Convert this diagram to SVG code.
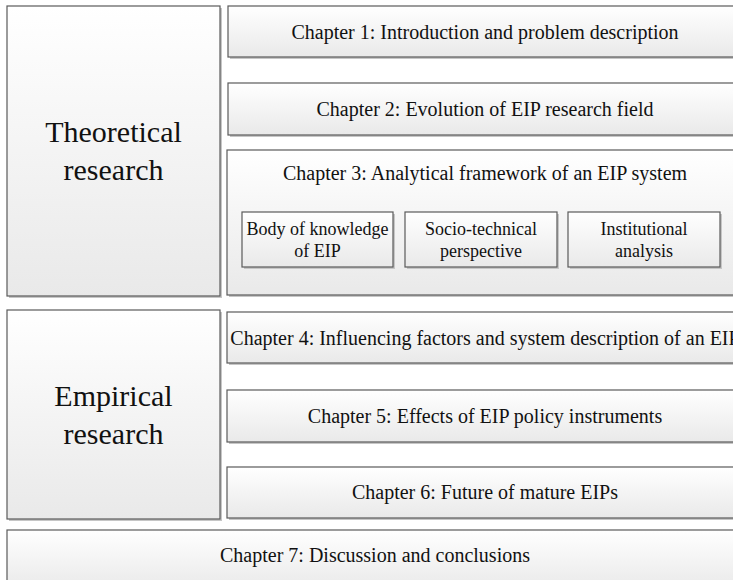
<svg xmlns="http://www.w3.org/2000/svg" width="733" height="580" viewBox="0 0 733 580">
  <style>
    .box { fill: url(#boxFill); stroke: #5a5a5a; stroke-width: 1.2; }
    .shadow { fill: #c6c6c6; }
    .big { font-family: "Liberation Serif", "Times New Roman", serif; font-size: 30px; fill: #111; text-anchor: middle; }
    .ch { font-family: "Liberation Serif", "Times New Roman", serif; font-size: 20px; fill: #111; text-anchor: middle; }
    .sub { font-family: "Liberation Serif", "Times New Roman", serif; font-size: 18px; fill: #111; text-anchor: middle; }
  </style>
  <defs>
    <linearGradient id="boxFill" x1="0" y1="0" x2="0" y2="1">
      <stop offset="0" stop-color="#ffffff"/>
      <stop offset="1" stop-color="#e9e9e9"/>
    </linearGradient>
  </defs>
  <rect width="733" height="580" fill="#ffffff"/>

  <g id="theoretical">
    <rect class="shadow" x="9" y="8" width="213" height="290"/>
    <rect class="box" x="7" y="6" width="213" height="290"/>
    <text class="big" x="113.5" y="142">Theoretical</text>
    <text class="big" x="113.5" y="180">research</text>
  </g>

  <g id="chapter1">
    <rect class="shadow" x="230" y="8" width="515" height="51"/>
    <rect class="box" x="228" y="6" width="515" height="51"/>
    <text class="ch" x="485" y="38.5">Chapter 1: Introduction and problem description</text>
  </g>

  <g id="chapter2">
    <rect class="shadow" x="230" y="85" width="515" height="52"/>
    <rect class="box" x="228" y="83" width="515" height="52"/>
    <text class="ch" x="485" y="116">Chapter 2: Evolution of EIP research field</text>
  </g>

  <g id="chapter3">
    <rect class="shadow" x="229" y="152" width="516" height="145"/>
    <rect class="box" x="227" y="150" width="516" height="145"/>
    <text class="ch" x="485" y="179.5">Chapter 3: Analytical framework of an EIP system</text>
  </g>

  <g id="body-of-knowledge">
    <rect class="shadow" x="244" y="214" width="151" height="55"/>
    <rect class="box" x="242" y="212" width="151" height="55"/>
    <text class="sub" x="317.5" y="234.5">Body of knowledge</text>
    <text class="sub" x="317.5" y="256.5">of EIP</text>
  </g>

  <g id="socio-technical">
    <rect class="shadow" x="407" y="214" width="152" height="55"/>
    <rect class="box" x="405" y="212" width="152" height="55"/>
    <text class="sub" x="481" y="234.5">Socio-technical</text>
    <text class="sub" x="481" y="256.5">perspective</text>
  </g>

  <g id="institutional">
    <rect class="shadow" x="570" y="214" width="152" height="55"/>
    <rect class="box" x="568" y="212" width="152" height="55"/>
    <text class="sub" x="644" y="234.5">Institutional</text>
    <text class="sub" x="644" y="256.5">analysis</text>
  </g>

  <g id="empirical">
    <rect class="shadow" x="9" y="312" width="213" height="209"/>
    <rect class="box" x="7" y="310" width="213" height="209"/>
    <text class="big" x="113.5" y="406">Empirical</text>
    <text class="big" x="113.5" y="444">research</text>
  </g>

  <g id="chapter4">
    <rect class="shadow" x="229" y="314" width="516" height="51"/>
    <rect class="box" x="227" y="312" width="516" height="51"/>
    <text class="ch" x="485" y="344.5">Chapter 4: Influencing factors and system description of an EIP</text>
  </g>

  <g id="chapter5">
    <rect class="shadow" x="229" y="392" width="516" height="52"/>
    <rect class="box" x="227" y="390" width="516" height="52"/>
    <text class="ch" x="485" y="422.5">Chapter 5: Effects of EIP policy instruments</text>
  </g>

  <g id="chapter6">
    <rect class="shadow" x="229" y="469" width="516" height="51"/>
    <rect class="box" x="227" y="467" width="516" height="51"/>
    <text class="ch" x="485" y="499">Chapter 6: Future of mature EIPs</text>
  </g>

  <g id="chapter7">
    <rect class="shadow" x="9" y="532" width="736" height="60"/>
    <rect class="box" x="7" y="530" width="736" height="60"/>
    <text class="ch" x="375" y="562">Chapter 7: Discussion and conclusions</text>
  </g>

  <g id="connectors"></g>
</svg>
